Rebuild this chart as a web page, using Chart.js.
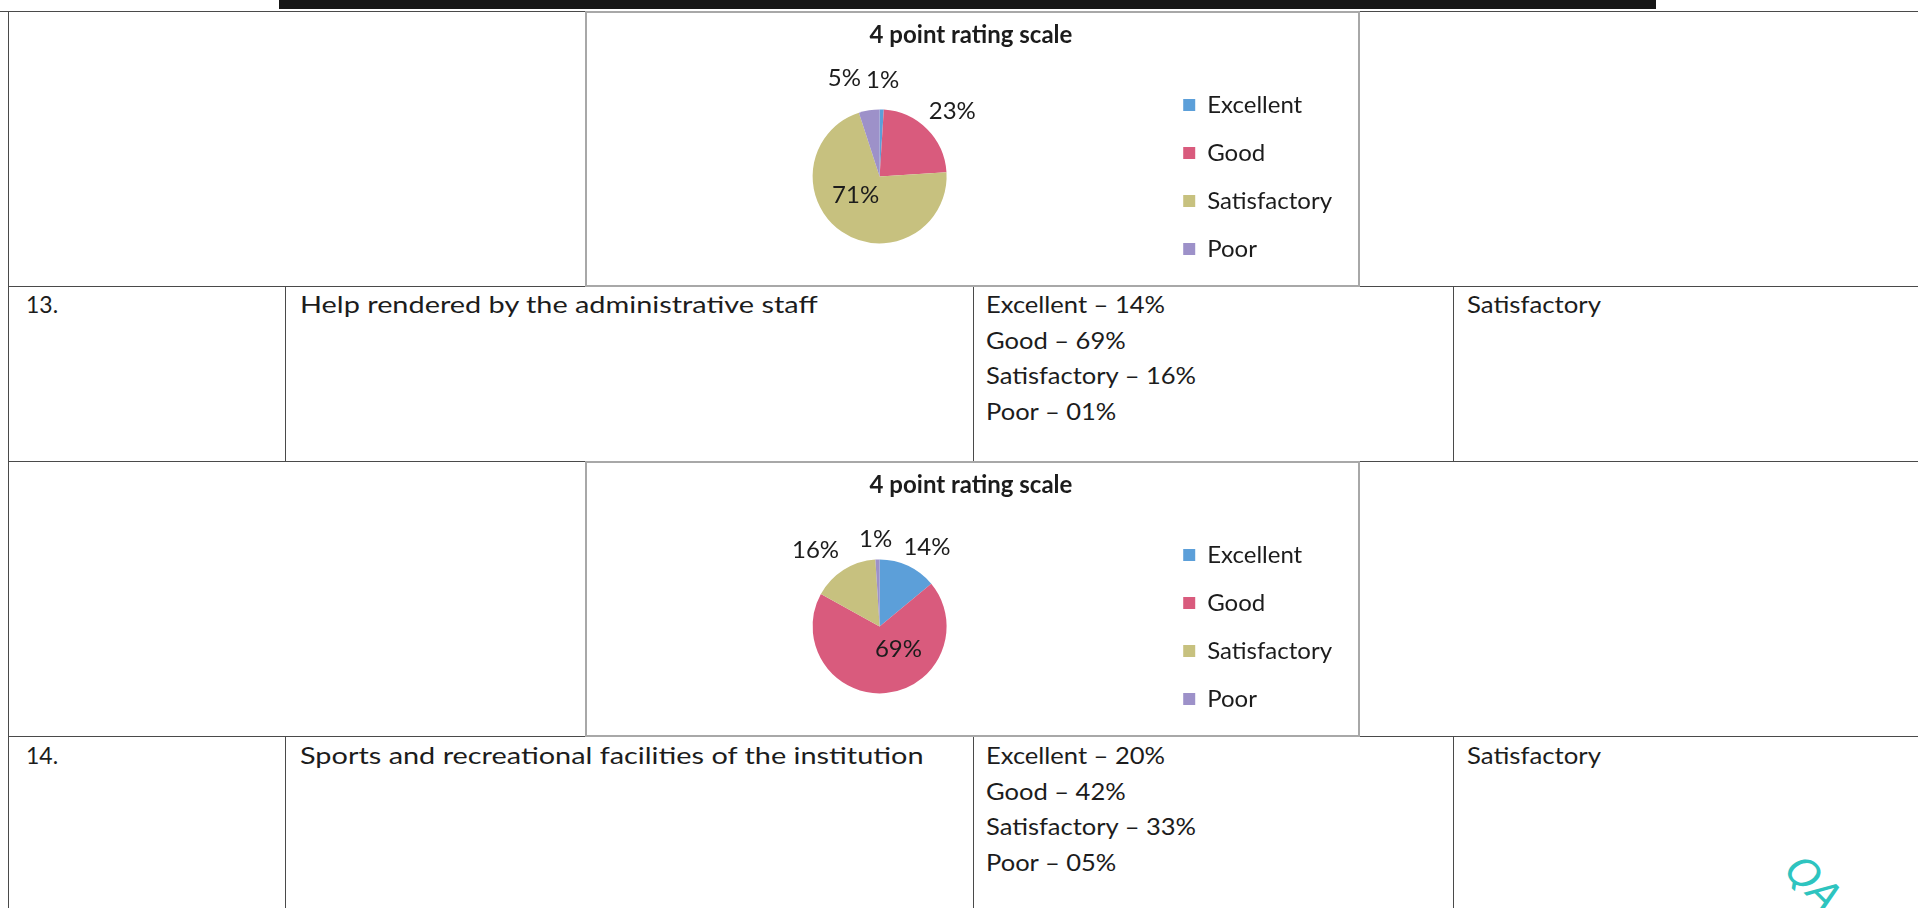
<!DOCTYPE html>
<html>
<head>
<meta charset="utf-8">
<script src="https://cdn.jsdelivr.net/npm/chart.js@4.4.1/dist/chart.umd.min.js"></script>
<style>
  html, body { margin: 0; padding: 0; background: #fff; }
  body { width: 1918px; height: 908px; position: relative; overflow: hidden; font-family: Lato, 'Open Sans', sans-serif; color: #1c1c1c; }
  .h { position: absolute; height: 0; border-top: 1.5px solid #4a4a4a; }
  .v { position: absolute; width: 0; border-left: 1.5px solid #4a4a4a; }
  .t { position: absolute; font-size: 23px; line-height: 35.5px; white-space: nowrap; transform-origin: 0 0; }
  .box { position: absolute; border: 2px solid #a8a8a8; box-sizing: border-box; background: #fff; }
  .box canvas { position: absolute; left: 0; top: 0; }
  .topbar { position: absolute; left: 279px; top: 0; width: 1377px; height: 9px; background: #161616; }
  .qa { position: absolute; left: 1784px; top: 860px; color: #2ec4bf; font: italic 40px 'DejaVu Sans', sans-serif; transform: rotate(45deg); }
</style>
</head>
<body>

<div class="topbar"></div>
<!-- table rules -->
<div class="h" style="left:0; top:11px; width:1918px;"></div>
<div class="h" style="left:8px; top:286px; width:1910px;"></div>
<div class="h" style="left:8px; top:461px; width:1910px;"></div>
<div class="h" style="left:8px; top:736px; width:1910px;"></div>
<div class="v" style="left:8px; top:11px; height:897px;"></div>
<div class="v" style="left:285px; top:286px; height:175px;"></div>
<div class="v" style="left:973px; top:286px; height:175px;"></div>
<div class="v" style="left:1453px; top:286px; height:175px;"></div>
<div class="v" style="left:285px; top:736px; height:172px;"></div>
<div class="v" style="left:973px; top:736px; height:172px;"></div>
<div class="v" style="left:1453px; top:736px; height:172px;"></div>

<div class="box" style="left:585px; top:11px; width:775px; height:276px;"><canvas id="pie12" width="771" height="272"></canvas></div>
<div class="box" style="left:585px; top:461px; width:775px; height:276px;"><canvas id="pie13" width="771" height="272"></canvas></div>

<div id="rows"></div>
<div class="qa">QA</div>

<script>
// categories and values
const categories = ['Excellent', 'Good', 'Satisfactory', 'Poor'];
const item12Values = [1, 23, 71, 5];
const item13Values = [14, 69, 16, 1];
const chartTitle = '4 point rating scale';

// table rows below each chart
const rowNumbers = ['13.', '14.'];
const rowQuestions = ['Help rendered by the administrative staff', 'Sports and recreational facilities of the institution'];
const rowResults = [
    ['Excellent – 14%', 'Good – 69%', 'Satisfactory – 16%', 'Poor – 01%'],
    ['Excellent – 20%', 'Good – 42%', 'Satisfactory – 33%', 'Poor – 05%']
];
const rowVerdicts = ['Satisfactory', 'Satisfactory'];

const sliceColors = ['#5c9fd9', '#d95b7d', '#c7c17f', '#9d91c9'];
const FONT = 'Lato';

// put the table text in (the scan's font runs wider than Lato, so stretch a bit)
const rowTops = [287, 738];
document.getElementById('rows').innerHTML = rowTops.map((top, r) => `
    <div class="t" style="left:26px; top:${top}px;">${rowNumbers[r]}</div>
    <div class="t" style="left:300px; top:${top}px; transform:scaleX(1.255);">${rowQuestions[r]}</div>
    <div class="t" style="left:986px; top:${top}px; transform:scaleX(1.11);">${rowResults[r].join('<br>')}</div>
    <div class="t" style="left:1467px; top:${top}px; transform:scaleX(1.12);">${rowVerdicts[r]}</div>
`).join('');

// percentage labels, placed like Excel's "best fit"
const pctLabels = {
    id: 'pctLabels',
    afterDatasetsDraw(chart, args, opts) {
        const ctx = chart.ctx;
        const vals = chart.data.datasets[0].data;
        const biggest = vals.indexOf(Math.max(...vals));
        ctx.save();
        ctx.font = `24px ${FONT}`;
        ctx.fillStyle = '#1c1c1c';
        ctx.textAlign = 'center';
        ctx.textBaseline = 'middle';
        chart.getDatasetMeta(0).data.forEach((arc, i) => {
            const p = arc.getProps(['x', 'y', 'startAngle', 'endAngle', 'outerRadius'], true);
            const mid = (p.startAngle + p.endAngle) / 2;
            const d = p.outerRadius * (i === biggest ? 0.45 : 1.45);
            const s = opts.shift[i];
            ctx.fillText(vals[i] + '%', p.x + Math.cos(mid) * d + s[0], p.y + Math.sin(mid) * d + s[1]);
        });
        ctx.restore();
    }
};

function drawPie(id, values, shift) {
    new Chart(document.getElementById(id), {
        type: 'pie',
        data: {
            labels: categories,
            datasets: [{ data: values, backgroundColor: sliceColors, borderWidth: 0, radius: 67 }]
        },
        options: {
            responsive: false,
            animation: false,
            layout: { padding: { left: 13, right: 16, top: 0, bottom: 0 } },
            plugins: {
                title: {
                    display: true, text: chartTitle, color: '#1c1c1c',
                    font: { family: FONT, size: 24, weight: 'bold' },
                    padding: { top: 8, bottom: 18 }
                },
                legend: {
                    position: 'right', align: 'center',
                    // empty legend title only pushes the items down to the pie's level
                    title: { display: true, text: ' ', font: { size: 20 }, padding: { top: 16, bottom: 16 } },
                    labels: { boxWidth: 12, boxHeight: 12, padding: 24, color: '#1c1c1c', font: { family: FONT, size: 24 } }
                },
                tooltip: { enabled: false },
                pctLabels: { shift: shift }
            }
        },
        plugins: [pctLabels]
    });
}

drawPie('pie12', item12Values, [[0, 1], [4, 4], [-7, -6], [-20, -2]]);
drawPie('pie13', item13Values, [[6, 9], [16, -7], [-12, 6], [-1, 10]]);
</script>
</body>
</html>
